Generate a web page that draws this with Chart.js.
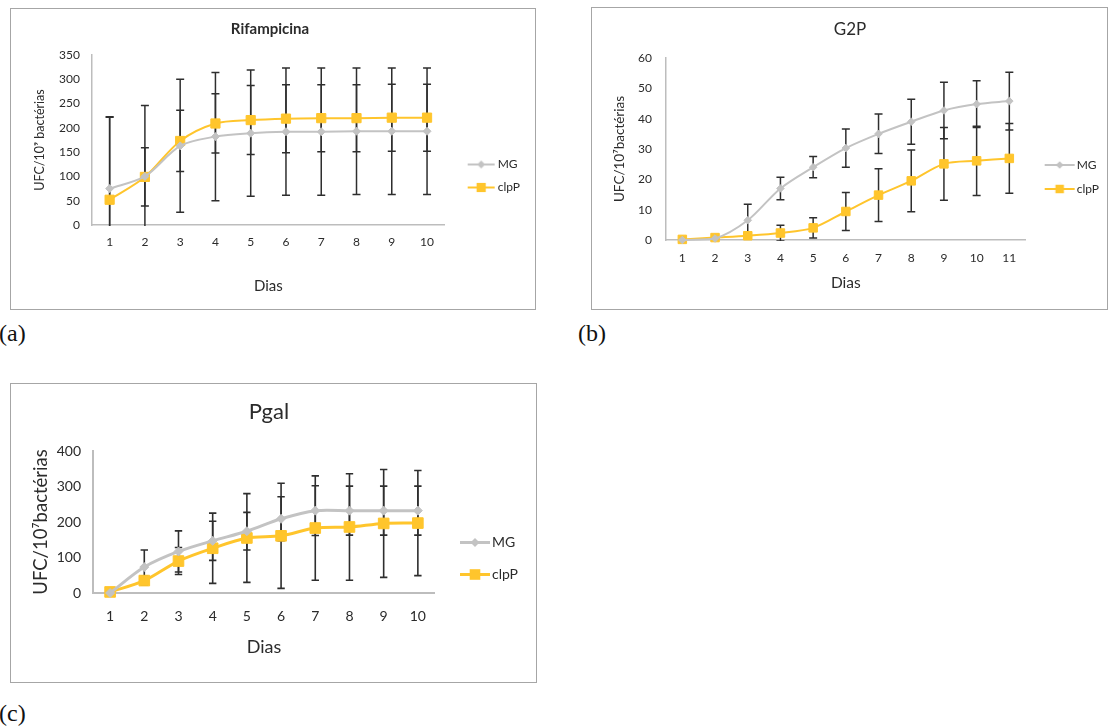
<!DOCTYPE html>
<html>
<head>
<meta charset="utf-8">
<script src="https://cdn.jsdelivr.net/npm/chart.js@4.4.1/dist/chart.umd.min.js"></script>
<style>
  body { margin: 0; background: #fff; width: 1108px; height: 726px; position: relative; overflow: hidden; }
  .frame { position: absolute; border: 1.5px solid #a6a6a6; box-sizing: border-box; }
  canvas { position: absolute; }
  .tag { position: absolute; font-family: "Liberation Serif", "DejaVu Serif", serif; font-size: 24px; line-height: 1; color: #111; }
</style>
</head>
<body>
<div class="frame" style="left:10px;top:8px;width:526px;height:302px"></div>
<div class="frame" style="left:591px;top:7px;width:517px;height:303px"></div>
<div class="frame" style="left:10px;top:383px;width:527px;height:300px"></div>
<canvas id="chartA"></canvas>
<canvas id="chartB"></canvas>
<canvas id="chartC"></canvas>
<div class="tag" style="left:-1px;top:321px">(a)</div>
<div class="tag" style="left:578px;top:321px">(b)</div>
<div class="tag" style="left:-1px;top:701px">(c)</div>
<script>
// --- data ---
const diasA = ['1', '2', '3', '4', '5', '6', '7', '8', '9', '10'];
const rifMG = [75, 100, 163, 182, 189, 192, 192, 193, 193, 193];
const rifMGErr = [148, 146, 137, 132, 130, 131, 131, 130, 130, 130];
const rifClpP = [52, 99, 173, 209, 216, 219, 220, 220, 221, 221];
const rifClpPErr = [170, 60, 63, 61, 71, 70, 69, 69, 69, 69];

const diasB = ['1', '2', '3', '4', '5', '6', '7', '8', '9', '10', '11'];
const g2pMG = [0, 0.5, 6.5, 17, 24, 30.3, 35, 39, 42.7, 44.8, 45.8];
const g2pMGErr = [0, 0, 5.3, 3.7, 3.5, 6.3, 6.5, 7.4, 9.3, 7.7, 9.5];
const g2pClpP = [0.2, 0.8, 1.4, 2.3, 4, 9.4, 14.8, 19.5, 25.1, 26.1, 26.9];
const g2pClpPErr = [0, 0, 0, 2.6, 3.3, 6.3, 8.7, 10.2, 12, 11.4, 11.5];

const diasC = ['1', '2', '3', '4', '5', '6', '7', '8', '9', '10'];
const pgalMG = [0, 73, 117, 147, 174, 209, 232, 232, 232, 232];
const pgalMGErr = [0, 48, 58, 55, 53, 62, 70, 69, 69, 69];
const pgalClpP = [3, 35, 90, 126, 155, 161, 183, 186, 196, 197];
const pgalClpPErr = [0, 12, 38, 99, 125, 148, 147, 150, 152, 148];

const FONT = 'Lato, "DejaVu Sans", sans-serif';
const GRAY = '#c3c3c3';
const GOLD = '#ffc52c';
const INK = '#2b2b2b';
const AXIS = '#bdbdbd';

// vertical error bars under the lines
const errorBars = {
  id: 'errorBars',
  beforeDatasetsDraw(chart, args, opts) {
    const {ctx, chartArea, scales: {x, y}} = chart;
    ctx.save();
    ctx.beginPath();
    ctx.rect(chartArea.left, 0, chartArea.width, chartArea.bottom + 1);
    ctx.clip();
    ctx.strokeStyle = '#2e2e2e';
    ctx.lineWidth = opts.width;
    chart.data.datasets.forEach(ds => {
      ds.errors.forEach((e, j) => {
        if (!e) return;
        const px = x.getPixelForValue(j);
        const t = y.getPixelForValue(ds.data[j] + e);
        const b = y.getPixelForValue(ds.data[j] - e);
        ctx.beginPath();
        ctx.moveTo(px, t); ctx.lineTo(px, b);
        ctx.moveTo(px - opts.cap, t); ctx.lineTo(px + opts.cap, t);
        ctx.moveTo(px - opts.cap, b); ctx.lineTo(px + opts.cap, b);
        ctx.stroke();
      });
    });
    ctx.restore();
  }
};

function legendIcon(color, style, r, lw, imgW, from, to) {
  const c = document.createElement('canvas');
  const h = Math.ceil(r * 2 + 4);
  c.width = imgW; c.height = h;
  const g = c.getContext('2d');
  g.strokeStyle = color; g.lineWidth = lw;
  g.beginPath(); g.moveTo(from, h / 2); g.lineTo(to, h / 2); g.stroke();
  const m = (from + to) / 2;
  g.fillStyle = color;
  g.beginPath();
  if (style === 'rect') {
    const s = r * 0.7071;
    g.rect(m - s, h / 2 - s, 2 * s, 2 * s);
  } else {
    g.moveTo(m, h / 2 - r); g.lineTo(m + r, h / 2); g.lineTo(m, h / 2 + r); g.lineTo(m - r, h / 2);
    g.closePath();
  }
  g.fill();
  return c;
}

function build(id, g, labels, series) {
  const canvas = document.getElementById(id);
  const meas = document.createElement('canvas').getContext('2d');
  meas.font = g.legendSize + 'px ' + FONT;
  const tw = Math.max(...series.map(s => meas.measureText(s.name).width));
  const W = Math.round(g.textStart + tw + 10);
  canvas.width = W; canvas.height = g.H;
  canvas.style.left = g.pageX + 'px'; canvas.style.top = g.pageY + 'px';

  const bw = g.textStart - g.right - g.legendPad - g.legendSize / 2;
  const cx = g.right + g.legendPad + bw / 2;
  const half = Math.max(cx - g.lineStart, g.lineEnd - cx) + 1;
  const imgW = Math.ceil(half * 2);
  const off = cx - imgW / 2;
  const icons = series.map(s => legendIcon(s.color, s.style, s.style === 'rect' ? g.sqR : g.diaR,
    g.lineWidth, imgW, g.lineStart - off, g.lineEnd - off));

  return new Chart(canvas, {
    type: 'line',
    data: {
      labels: labels,
      datasets: series.map(s => ({
        label: s.name,
        data: s.values,
        errors: s.errors,
        borderColor: s.color,
        backgroundColor: s.color,
        borderWidth: g.lineWidth,
        pointStyle: s.style,
        pointRadius: s.style === 'rect' ? g.sqR : g.diaR,
        pointBorderWidth: 1,
        pointBorderColor: s.color,
        pointBackgroundColor: s.color,
        tension: 0.3,
        clip: false
      }))
    },
    options: {
      responsive: false,
      animation: false,
      devicePixelRatio: 1,
      layout: { padding: 0 },
      plugins: {
        title: {
          display: true, text: g.title, color: INK,
          font: { family: FONT, size: g.titleSize, weight: g.titleWeight },
          padding: { top: g.titleTop, bottom: g.titleBottom }
        },
        legend: {
          position: 'right', align: 'center',
          title: { display: true, text: ' ', font: { size: 1, lineHeight: 1 }, padding: { top: g.legendShift - 1, bottom: 0 } },
          labels: {
            usePointStyle: true, pointStyleWidth: bw, padding: g.legendPad, color: INK,
            font: { family: FONT, size: g.legendSize },
            generateLabels: () => series.map((s, i) => ({
              text: s.name, pointStyle: icons[i], datasetIndex: i, fontColor: INK,
              fillStyle: s.color, strokeStyle: s.color, lineWidth: 0, hidden: false
            }))
          }
        },
        tooltip: { enabled: false },
        errorBars: { width: g.errWidth, cap: g.errCap }
      },
      scales: {
        x: {
          offset: true,
          grid: { display: false, drawTicks: false },
          border: { display: true, color: AXIS, width: g.axisWidth },
          ticks: { color: INK, padding: g.xTickPad, maxRotation: 0, autoSkip: false, font: { family: FONT, size: g.tickSize } },
          title: { display: true, text: 'Dias', color: INK, font: { family: FONT, size: g.xTitleSize }, padding: { top: 0, bottom: g.xTitleBottom } },
          afterFit: s => { s.height = g.H - g.bottom; }
        },
        y: {
          min: 0, max: g.yMax,
          grid: { display: false, drawTicks: false },
          border: { display: true, color: AXIS, width: g.axisWidth },
          ticks: { stepSize: g.yStep, color: INK, padding: g.yTickPad, font: { family: FONT, size: g.tickSize } },
          title: { display: true, text: g.yTitle, color: INK, font: { family: FONT, size: g.yTitleSize }, padding: { top: g.yTitleTop, bottom: 0 } },
          afterFit: s => { s.width = g.left; }
        }
      }
    },
    plugins: [errorBars]
  });
}

build('chartA', {
  pageX: 10, pageY: 8, H: 301, left: 82, bottom: 217, right: 435,
  title: 'Rifampicina', titleSize: 15, titleWeight: 'bold', titleTop: 12, titleBottom: 17,
  yTitle: 'UFC/10\u2079 bact\u00e9rias', yTitleSize: 12.5, yTitleTop: 22.5, yTickPad: 12,
  tickSize: 12, xTickPad: 10, xTitleSize: 15, xTitleBottom: 14,
  legendSize: 12, legendPad: 11, lineStart: 458, lineEnd: 485, textStart: 488, legendShift: 35,
  yMax: 350, yStep: 50, lineWidth: 2, sqR: 6.5, diaR: 4, errCap: 4, errWidth: 1.5, axisWidth: 1.5
}, diasA, [
  { name: 'MG', values: rifMG, errors: rifMGErr, color: GRAY, style: 'rectRot' },
  { name: 'clpP', values: rifClpP, errors: rifClpPErr, color: GOLD, style: 'rect' }
]);

build('chartB', {
  pageX: 591, pageY: 7, H: 302, left: 75, bottom: 233, right: 435,
  title: 'G2P', titleSize: 17, titleWeight: 'normal', titleTop: 12.8, titleBottom: 17.8,
  yTitle: 'UFC/10\u2077bact\u00e9rias', yTitleSize: 13.5, yTitleTop: 20.9, yTickPad: 14,
  tickSize: 12, xTickPad: 11, xTitleSize: 15.5, xTitleBottom: 16.7,
  legendSize: 12, legendPad: 12, lineStart: 454, lineEnd: 484, textStart: 486, legendShift: 38,
  yMax: 60, yStep: 10, lineWidth: 2, sqR: 6, diaR: 3.8, errCap: 4, errWidth: 1.5, axisWidth: 1.5
}, diasB, [
  { name: 'MG', values: g2pMG, errors: g2pMGErr, color: GRAY, style: 'rectRot' },
  { name: 'clpP', values: g2pClpP, errors: g2pClpPErr, color: GOLD, style: 'rect' }
]);

build('chartC', {
  pageX: 10, pageY: 383, H: 299, left: 83, bottom: 210, right: 425,
  title: 'Pgal', titleSize: 22, titleWeight: 'normal', titleTop: 16, titleBottom: 25.6,
  yTitle: 'UFC/10\u2077bact\u00e9rias', yTitleSize: 18.5, yTitleTop: 19.6, yTickPad: 12,
  tickSize: 14, xTickPad: 15.5, xTitleSize: 18, xTitleBottom: 24.5,
  legendSize: 14, legendPad: 18, lineStart: 450, lineEnd: 480, textStart: 482, legendShift: 52,
  yMax: 400, yStep: 100, lineWidth: 3, sqR: 7.5, diaR: 4.5, errCap: 3.7, errWidth: 1.6, axisWidth: 2
}, diasC, [
  { name: 'MG', values: pgalMG, errors: pgalMGErr, color: GRAY, style: 'rectRot' },
  { name: 'clpP', values: pgalClpP, errors: pgalClpPErr, color: GOLD, style: 'rect' }
]);
</script>
</body>
</html>
